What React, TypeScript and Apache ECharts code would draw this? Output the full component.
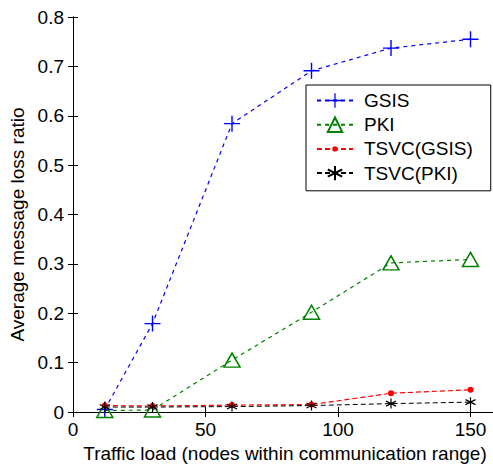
import React, { useEffect, useRef } from "react";
import * as echarts from "echarts";

const xValues = [12, 30, 60, 90, 120, 150];
const gsis = [0.005, 0.179, 0.584, 0.691, 0.737, 0.755];
const pki = [0.003, 0.004, 0.105, 0.202, 0.302, 0.309];
const tsvcGsis = [0.013, 0.012, 0.014, 0.015, 0.038, 0.045];
const tsvcPki = [0.01, 0.01, 0.011, 0.013, 0.017, 0.02];
const seriesNames = ["GSIS", "PKI", "TSVC(GSIS)", "TSVC(PKI)"];

const FONT = "Liberation Sans, Arial, sans-serif";

const plusPath = "path://M7.3,0H8.7V16H7.3Z M0,7.3H16V8.7H0Z";
const triPath = "path://M8,0L16,14L0,14Z";
const dotPath = "path://M0,0M16,16M5,8A3,3 0 1 1 11,8A3,3 0 1 1 5,8Z";
const starPath = "path://M5,0L5,10M0.7,2.5L9.3,7.5M0.7,7.5L9.3,2.5";

export default function App() {
  const ref = useRef<HTMLDivElement>(null);
  useEffect(() => {
    if (!ref.current) return;
    const chart = echarts.init(ref.current, undefined, { renderer: "svg" });
    const pair = (arr: number[]) => xValues.map((x, i) => [x, arr[i]]);
    const axisCommon = {
      axisLine: { show: true, lineStyle: { color: "#000", width: 1 } },
      axisTick: { show: true, inside: true, length: 5, lineStyle: { color: "#000" } },
      splitLine: { show: false },
    };
    chart.setOption({
      animation: false,
      backgroundColor: "#fff",
      grid: { left: 73, top: 17, width: 424, height: 395, outerBoundsMode: "none", containLabel: false },
      xAxis: [
        {
          type: "value",
          min: 0,
          max: 160,
          interval: 50,
          ...axisCommon,
          axisLabel: { fontSize: 19, fontFamily: FONT, color: "#000", margin: 8, showMaxLabel: false },
          name: "Traffic load (nodes within communication range)",
          nameLocation: "middle",
          nameGap: 30,
          nameTextStyle: { fontSize: 19, fontFamily: FONT, color: "#000" },
        },
        {
          type: "value",
          position: "top",
          min: 0,
          max: 160,
          interval: 50,
          ...axisCommon,
          axisLabel: { show: false },
        },
      ],
      yAxis: [
        {
          type: "value",
          min: 0,
          max: 0.8,
          interval: 0.1,
          ...axisCommon,
          axisLabel: { fontSize: 19, fontFamily: FONT, color: "#000", margin: 9 },
          name: "Average message loss ratio",
          nameLocation: "middle",
          nameGap: 43,
          nameTextStyle: { fontSize: 19, fontFamily: FONT, color: "#000", padding: [0, 20, 0, 0] },
        },
        {
          type: "value",
          position: "right",
          min: 0,
          max: 0.8,
          interval: 0.1,
          ...axisCommon,
          axisLabel: { show: false },
        },
      ],
      legend: {
        orient: "vertical",
        left: 306,
        top: 85,
        padding: [6, 18, 8, 10],
        itemWidth: 36,
        itemHeight: 18,
        itemGap: 5,
        borderColor: "#000",
        borderWidth: 1,
        backgroundColor: "#fff",
        textStyle: { fontSize: 19, fontFamily: FONT, color: "#000", padding: [0, 0, 0, 6] },
        data: seriesNames,
      },
      series: [
        {
          name: seriesNames[0],
          type: "line",
          data: pair(gsis),
          symbol: plusPath,
          symbolSize: 16,
          itemStyle: { color: "#0000ff" },
          lineStyle: { color: "#0000ff", width: 1.2, type: [4, 4] },
        },
        {
          name: seriesNames[1],
          type: "line",
          data: pair(pki),
          symbol: triPath,
          symbolSize: [16, 14],
          itemStyle: { color: "none", borderColor: "#008000", borderWidth: 1.5 },
          lineStyle: { color: "#008000", width: 1.2, type: [4, 4] },
        },
        {
          name: seriesNames[2],
          type: "line",
          data: pair(tsvcGsis),
          symbol: dotPath,
          symbolSize: 16,
          itemStyle: { color: "#ff0000" },
          lineStyle: { color: "#ff0000", width: 1.2, type: [5, 3] },
        },
        {
          name: seriesNames[3],
          type: "line",
          data: pair(tsvcPki),
          symbol: starPath,
          symbolSize: 10,
          itemStyle: { color: "none", borderColor: "#000", borderWidth: 1.2 },
          lineStyle: { color: "#000", width: 1, type: [5, 3] },
        },
      ],
    });
    return () => chart.dispose();
  }, []);
  return (
    <div
      ref={ref}
      style={{ position: "absolute", left: 0, top: 0, width: 493, height: 465 }}
    />
  );
}
